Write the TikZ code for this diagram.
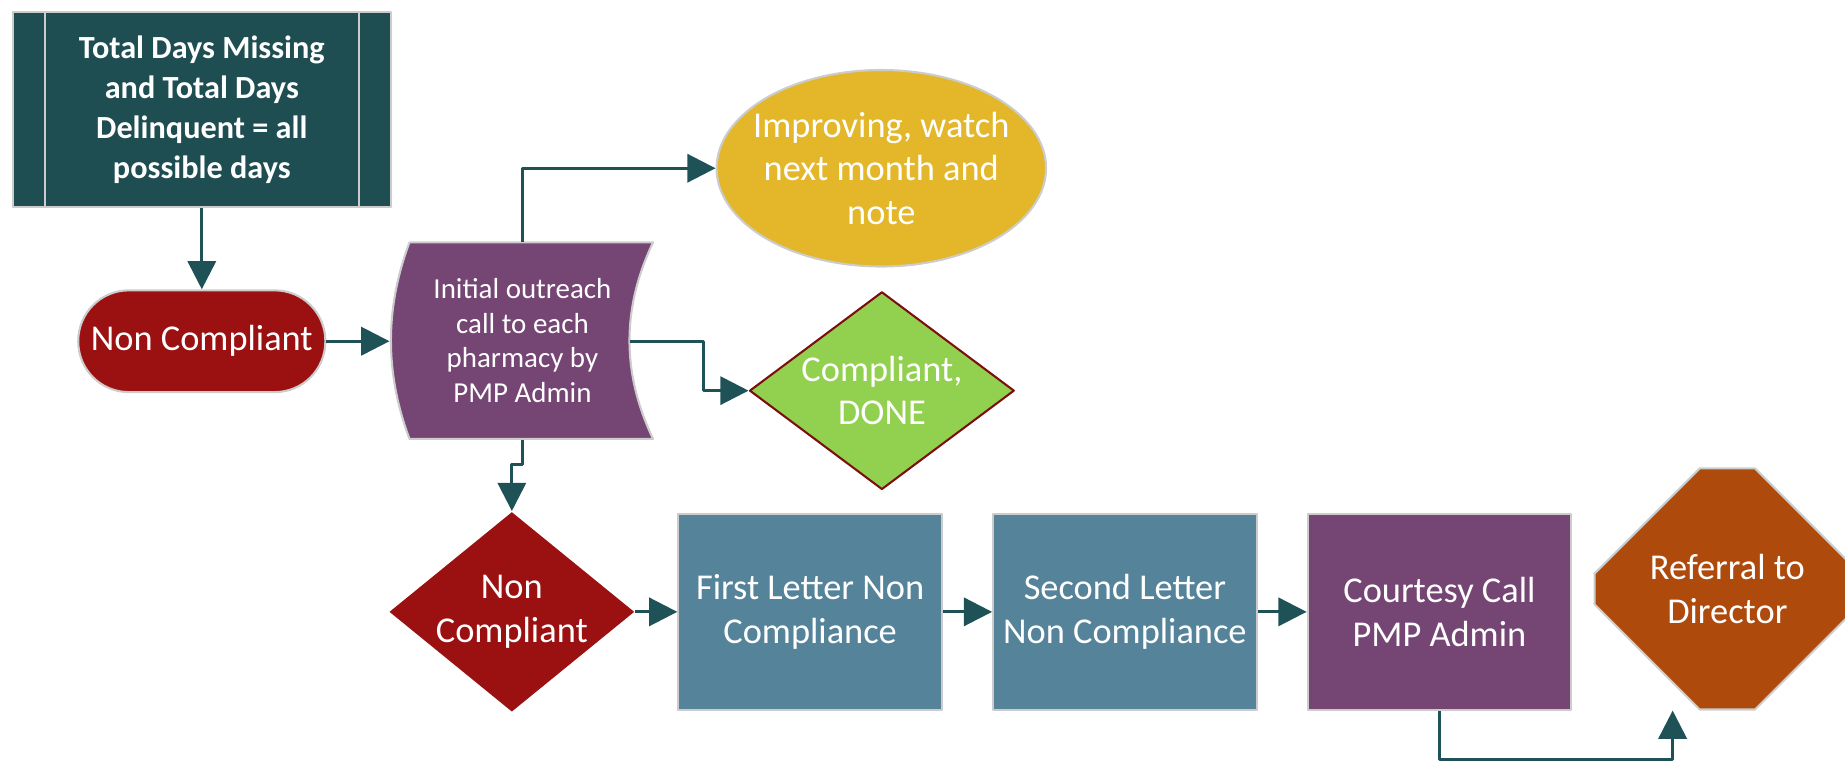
\documentclass[tikz,border=0pt]{standalone}
\usepackage{fontspec}
\setmainfont{Carlito}
\usetikzlibrary{arrows.meta,shapes.geometric,shapes.misc,calc}
\definecolor{tealdark}{RGB}{31,78,82}
\definecolor{linkteal}{RGB}{30,82,87}
\definecolor{redbox}{RGB}{155,17,17}
\definecolor{purplebox}{RGB}{117,69,115}
\definecolor{yellowbox}{RGB}{228,183,42}
\definecolor{greenbox}{RGB}{146,208,80}
\definecolor{bluebox}{RGB}{85,131,153}
\definecolor{orangebox}{RGB}{174,74,12}
\begin{document}
\begin{tikzpicture}[>={Triangle[length=2.4mm,width=2.4mm]}, line join=round,
	every node/.style={text=white, align=center, inner sep=0pt, font=\fontsize{8.8}{10.5}\selectfont},
	box/.style={rectangle, draw=black!20, line width=0.5pt, minimum width=2.24cm, minimum height=1.67cm},
	dec/.style={diamond, inner xsep=-0.05cm},
	flow/.style={->, draw=linkteal, line width=0.7pt}]
	\useasboundingbox (0,0) rectangle (15.68,-6.47);
	\node[box, fill=tealdark, minimum width=3.21cm, minimum height=1.66cm, font=\bfseries\fontsize{7.8}{9.7}\selectfont] (days) at (1.715,-0.93) {Total Days Missing\\and Total Days\\Delinquent = all\\possible days};
	\draw[black!20, line width=0.5pt] ($(days.north west)+(0.28,0)$)--($(days.south west)+(0.28,0)$) ($(days.north east)+(-0.28,0)$)--($(days.south east)+(-0.28,0)$);
	\node[box, fill=redbox, rounded corners=0.43cm, minimum width=2.10cm, minimum height=0.865cm] (nc) at (1.715,-2.90) {Non Compliant};
	\filldraw[fill=purplebox, draw=black!20, line width=0.5pt] (3.48,-2.06)--(5.55,-2.06) .. controls (5.283,-2.62) and (5.283,-3.17) .. (5.55,-3.73)--(3.48,-3.73) .. controls (3.27,-3.17) and (3.27,-2.62) .. (3.48,-2.06);
	\coordinate (callL)at(3.31,-2.90);
	\coordinate (callR)at(5.35,-2.90);
	\node[minimum width=1.82cm, minimum height=1.67cm, font=\fontsize{7}{8.35}\selectfont] (call) at (4.44,-2.895) {Initial outreach\\call to each\\pharmacy by\\PMP Admin};
	\node[ellipse, fill=yellowbox, draw=black!20, line width=0.5pt, inner xsep=-0.2cm, minimum width=2.80cm, minimum height=1.67cm] (watch) at (7.49,-1.43) {Improving, watch\\next month and\\note};
	\node[dec, fill=greenbox, draw=redbox!80!black, line width=0.5pt, aspect=1.34, minimum width=2.25cm, minimum height=1.68cm] (done) at (7.495,-3.32) {Compliant,\\DONE};
	\node[dec, fill=redbox, aspect=1.23, minimum width=2.085cm, minimum height=1.70cm] (nc2) at (4.35,-5.20) {Non\\Compliant};
	\node[box, fill=bluebox] (first) at (6.885,-5.20) {First Letter Non\\Compliance};
	\node[box, fill=bluebox] (second) at (9.56,-5.20) {Second Letter\\Non Compliance};
	\node[box, fill=purplebox] (courtesy) at (12.233,-5.20) {Courtesy Call\\PMP Admin};
	\node[chamfered rectangle, chamfered rectangle xsep=0.665cm, chamfered rectangle ysep=0.60cm, fill=orangebox, draw=black!20, line width=0.5pt, minimum width=2.255cm, minimum height=2.05cm] (ref) at (14.68,-5.005) {Referral to\\Director};
	\draw[flow] (days)--(nc);
	\draw[flow] (nc)--(callL);
	\draw[flow] (call.north)|-(watch.west);
	\draw[flow] (callR)--++(0.63,0)|-(done.west);
	\draw[flow] (call.south)--++(0,-0.21)-|(nc2.north);
	\draw[flow] (nc2)--(first);
	\draw[flow] (first)--(second);
	\draw[flow] (second)--(courtesy);
	\draw[flow] (courtesy.south)--++(0,-0.41)-|($(ref.south)+(-0.465,0)$);
\end{tikzpicture}
\end{document}
